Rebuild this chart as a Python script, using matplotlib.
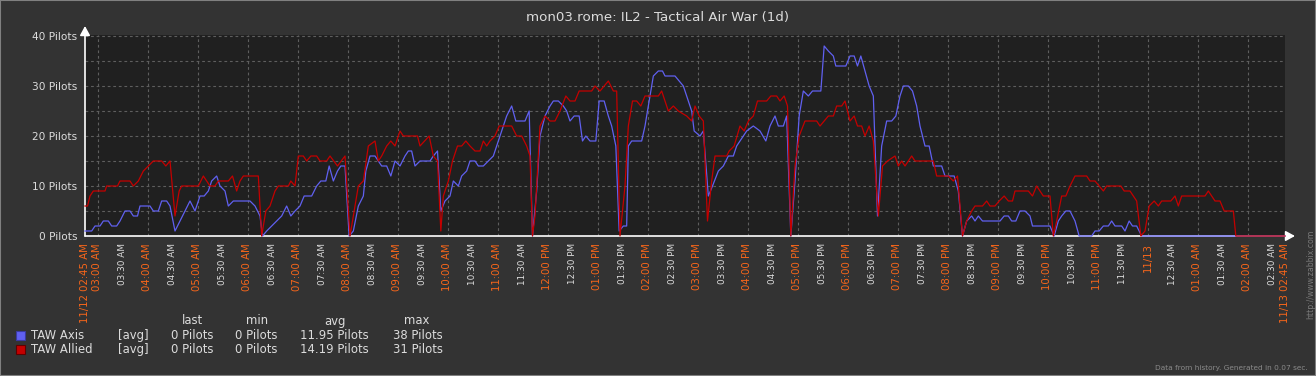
import matplotlib
matplotlib.use("Agg")
import matplotlib.pyplot as plt
import numpy as np
from matplotlib.patches import Rectangle

W, H = 1316, 376

# minutes after 11/12 02:45 AM -> pilots online
axis_min = [0, 8, 12, 18, 22, 28, 32, 38, 42, 48, 54, 58, 63, 66, 78, 82, 88, 92, 98, 102,
            108, 114, 120, 126, 132, 138, 143, 148, 152, 158, 162, 168, 172, 178, 198, 204,
            210, 213, 218, 224, 230, 236, 242, 247, 252, 258, 263, 272, 278, 283, 289, 293,
            298, 303, 307, 312, 317, 322, 328, 334, 337, 342, 348, 356, 362, 367, 372, 378,
            384, 388, 392, 396, 402, 414, 418, 423, 427, 432, 438, 442, 448, 452, 458, 462,
            468, 472, 478, 484, 490, 498, 506, 512, 517, 528, 533,
            537, 542, 546, 552, 558, 562, 568, 574, 578, 582, 587, 593, 597, 601, 606, 613,
            617, 623, 628, 632, 637, 641, 646, 650, 652, 656, 668, 672, 676, 682, 688, 693,
            696, 708, 718, 724, 728, 731, 738, 742, 748, 753, 760, 766, 772, 778, 782, 794,
            802, 810, 817, 822, 828, 832, 838, 842, 847, 852, 857, 862, 868, 873, 883, 887,
            892, 898, 901, 913, 918, 923, 927, 931, 936, 941, 946, 951, 956, 962, 968, 973,
            978, 982, 988, 993, 998, 1002, 1008, 1013, 1018, 1028, 1032, 1043, 1048, 1053,
            1058, 1064, 1068, 1072, 1077, 1098, 1103, 1108, 1112, 1117, 1122, 1128, 1134,
            1137, 1158, 1163, 1168, 1172, 1177, 1182, 1188, 1193, 1208, 1212, 1217, 1222,
            1228, 1232, 1236, 1244, 1248, 1253, 1257, 1262, 1268, 1440]
axis_val = [1, 1, 2, 2, 3, 3, 2, 2, 3, 5, 5, 4, 4, 6, 6, 5, 5, 7, 7, 6,
            1, 3, 5, 7, 5, 8, 8, 9, 11, 12, 10, 9, 6, 7, 7, 6,
            4, 0, 1, 2, 3, 4, 6, 4, 5, 6, 8, 8, 10, 11, 11, 14,
            11, 13, 14, 14, 0, 1, 6, 8, 13, 16, 16, 14, 14, 12, 15, 14,
            16, 17, 17, 14, 15, 15, 16, 17, 5, 7, 8, 11, 10, 12, 13, 15,
            15, 14, 14, 15, 16, 20, 24, 26, 23, 23, 25,
            0, 9, 20, 24, 26, 27, 27, 26, 25, 23, 24, 24, 19, 20, 19, 19,
            27, 27, 24, 22, 18, 1, 2, 2, 18, 19, 19, 22, 26, 32, 33, 33,
            32, 32, 30, 27, 25, 21, 20, 21, 8, 10, 13, 14, 16, 16, 18, 21,
            22, 21, 19, 22, 24, 22, 22, 24, 0, 11, 24, 29, 28, 29, 29, 38,
            37, 36, 34, 34, 36, 36, 34, 36, 33, 30, 28, 4, 18, 23, 23, 24,
            28, 30, 30, 29, 26, 22, 18, 18, 14, 14, 12, 12, 9, 0,
            3, 4, 3, 4, 3, 3, 4, 4, 3, 3, 5, 5, 4,
            2, 2, 0, 3, 4, 5, 5, 3, 0, 0, 1, 1, 2,
            2, 3, 2, 2, 1, 3, 2, 2, 0, 0]

allied_min = [0, 3, 6, 10, 24, 26, 39, 42, 54, 58, 64, 70, 76, 82, 92, 97, 102, 108, 113, 116,
              136, 142, 146, 150, 156, 160, 172, 177, 182, 186, 190, 208, 212, 217, 222, 228,
              232, 244, 247, 252, 256, 262, 266, 271, 278, 282, 290, 294, 303, 312, 318, 328,
              334, 340, 348, 352, 356, 362, 367, 372, 378, 382, 399, 402, 413, 418, 423, 427,
              430, 436, 441, 447, 452, 457, 462, 468, 474, 478, 482, 486, 492, 497, 512, 518,
              524, 530, 534,
              537, 540, 546, 552, 558, 564, 570, 577, 582, 588, 593, 608, 612, 618, 628, 634,
              638, 642, 648, 652, 657, 662, 667, 672, 688, 692, 700, 706, 712, 722, 728, 732,
              737, 742, 747, 752, 756, 770, 773, 779, 786, 791, 796, 802, 807, 818, 823, 830,
              834, 839, 843, 847, 852, 857, 864, 878, 882, 892, 898, 902, 908, 912, 918, 923,
              927, 932, 936, 941, 946, 952, 957, 963, 972, 976, 980, 984, 992, 996, 1018, 1022,
              1036, 1042, 1047, 1053, 1058, 1064, 1068,
              1077, 1082, 1086, 1092, 1097, 1103, 1108, 1113, 1116, 1132, 1137, 1142, 1150,
              1158, 1162, 1166, 1172, 1177, 1182, 1188, 1202, 1206, 1212, 1222, 1226, 1243,
              1247, 1254, 1262, 1267, 1272, 1277, 1283, 1288, 1292, 1303, 1308, 1312, 1316,
              1344, 1348, 1356, 1362, 1367, 1378, 1381, 1440]
allied_val = [6, 6, 8, 9, 9, 10, 10, 11, 11, 10, 11, 13, 14, 15, 15, 14, 15, 4, 9, 10,
              10, 12, 11, 10, 10, 11, 11, 12, 9, 11, 12, 12, 0, 5, 6, 9,
              10, 10, 11, 10, 16, 16, 15, 16, 16, 15, 15, 16, 14, 16, 0, 10,
              11, 18, 19, 15, 16, 18, 19, 18, 21, 20, 20, 18, 20, 16, 15, 1,
              8, 11, 15, 18, 18, 19, 18, 17, 17, 19, 18, 19, 20, 22, 22, 20,
              20, 18, 16,
              0, 4, 22, 24, 23, 23, 25, 28, 27, 27, 29, 29, 30, 29, 31, 29,
              29, 0, 10, 22, 27, 27, 26, 28, 28, 29, 25, 26, 25, 24, 23, 26,
              24, 23, 3, 11, 16, 16, 17, 18, 22, 21, 23, 24, 27, 27, 28, 28,
              27, 28, 26, 0, 14, 20, 23, 23, 22, 24, 24, 26, 26, 27, 23, 24,
              22, 22, 20, 22, 19, 4, 14, 15, 16, 14, 15, 14, 16, 15, 15, 12,
              12, 11, 12, 0, 3, 5, 6,
              6, 7, 6, 6, 7, 8, 7, 7, 9, 9, 8, 10, 8,
              8, 0, 3, 8, 8, 10, 12, 12, 11, 11, 9, 10, 10,
              9, 9, 7, 0, 1, 6, 7, 6, 7, 7, 8, 6, 8,
              8, 9, 7, 7, 5, 5, 0, 0]

x_labels = ["11/12 02:45 AM",
            "03:00 AM", "03:30 AM", "04:00 AM", "04:30 AM", "05:00 AM", "05:30 AM",
            "06:00 AM", "06:30 AM", "07:00 AM", "07:30 AM", "08:00 AM", "08:30 AM",
            "09:00 AM", "09:30 AM", "10:00 AM", "10:30 AM", "11:00 AM", "11:30 AM",
            "12:00 PM", "12:30 PM", "01:00 PM", "01:30 PM", "02:00 PM", "02:30 PM",
            "03:00 PM", "03:30 PM", "04:00 PM", "04:30 PM", "05:00 PM", "05:30 PM",
            "06:00 PM", "06:30 PM", "07:00 PM", "07:30 PM", "08:00 PM", "08:30 PM",
            "09:00 PM", "09:30 PM", "10:00 PM", "10:30 PM", "11:00 PM", "11:30 PM",
            "11/13", "12:30 AM", "01:00 AM", "01:30 AM", "02:00 AM", "02:30 AM",
            "11/13 02:45 AM"]
y_ticks = [0, 10, 20, 30, 40]
y_labels = ["0 Pilots", "10 Pilots", "20 Pilots", "30 Pilots", "40 Pilots"]

legend_names = ["TAW Axis", "TAW Allied"]
legend_last = ["0 Pilots", "0 Pilots"]
legend_min = ["0 Pilots", "0 Pilots"]
legend_avg = ["11.95 Pilots", "14.19 Pilots"]
legend_max = ["38 Pilots", "31 Pilots"]

BG = "#333333"
PLOT_BG = "#202020"
TXT = "#dcdcdc"
ORANGE = "#f8661a"
BLUE = "#6060f0"
RED = "#c40000"
GRID = "#5e5e5e"


def fx(x):
    return x / W


def fy(y):
    return 1 - y / H


fig = plt.figure(figsize=(W / 100, H / 100), dpi=100, facecolor=BG)
ax = fig.add_axes([fx(85), fy(236), 1200 / W, 201 / H])
ax.set_facecolor(PLOT_BG)
for s in ax.spines.values():
    s.set_visible(False)

ax.set_xlim(0, 24)
ax.set_ylim(0, 40.2)

# dashed grid: every full hour / every 5 pilots
for i in range(24):
    ax.axvline(0.25 + i, color=GRID, lw=0.8, ls=(0, (2.5, 2.5)), zorder=1)
for v in range(5, 45, 5):
    ax.axhline(v, color=GRID, lw=0.8, ls=(0, (2.5, 2.5)), zorder=1)

# axis lines with arrows
arrow = dict(arrowstyle="-|>,head_length=0.55,head_width=0.3", color="white",
             lw=1.2, shrinkA=0, shrinkB=0, mutation_scale=10)
ax.annotate("", xy=(0, 42.0), xytext=(0, 0), arrowprops=arrow, annotation_clip=False, zorder=3)
ax.annotate("", xy=(24.2, 0), xytext=(0, 0), arrowprops=arrow, annotation_clip=False, zorder=3)

ax.plot(np.array(axis_min) / 60, axis_val, color=BLUE, lw=0.9, zorder=5, clip_on=False)
ax.plot(np.array(allied_min) / 60, allied_val, color=RED, lw=0.9, zorder=6, clip_on=False)

# tick labels every 30 min
xpos = [0] + [0.25 + 0.5 * i for i in range(48)] + [24]
ax.set_xticks(xpos)
ax.set_xticklabels(x_labels, rotation=90, va="top", ha="center")
for lab in ax.get_xticklabels():
    txt = lab.get_text()
    if txt.endswith(":30 AM") or txt.endswith(":30 PM"):
        lab.set_color(TXT)
        lab.set_fontsize(6.4)
    else:
        lab.set_color(ORANGE)
        lab.set_fontsize(7.3)

ax.set_yticks(y_ticks)
ax.set_yticklabels(y_labels, color=TXT, fontsize=7.6)
ax.tick_params(axis="both", which="both", length=0)
ax.tick_params(axis="x", pad=5)
ax.tick_params(axis="y", pad=5.5)

fig.text(0.5, fy(18), "mon03.rome: IL2 - Tactical Air War (1d)", ha="center", va="center",
         color=TXT, fontsize=9.6)

# legend
for x, h in [(192, "last"), (257, "min"), (335, "avg"), (417, "max")]:
    fig.text(fx(x), fy(321), h, ha="center", va="center", color=TXT, fontsize=8.4)
colors = [BLUE, RED]
edges = ["#3a3aa0", "#600000"]
for i, ypix in enumerate([335.5, 349.5]):
    fig.patches.append(Rectangle((fx(16), fy(ypix + 4.5)), 9 / W, 9 / H,
                                 transform=fig.transFigure, facecolor=colors[i],
                                 edgecolor=edges[i], lw=0.8))
    fig.text(fx(31), fy(ypix), legend_names[i], ha="left", va="center", color=TXT, fontsize=8.4)
    fig.text(fx(118), fy(ypix), "[avg]", ha="left", va="center", color=TXT, fontsize=8.4)
    fig.text(fx(171), fy(ypix), legend_last[i], ha="left", va="center", color=TXT, fontsize=8.4)
    fig.text(fx(235), fy(ypix), legend_min[i], ha="left", va="center", color=TXT, fontsize=8.4)
    fig.text(fx(300), fy(ypix), legend_avg[i], ha="left", va="center", color=TXT, fontsize=8.4)
    fig.text(fx(393), fy(ypix), legend_max[i], ha="left", va="center", color=TXT, fontsize=8.4)

fig.text(fx(1308), fy(368), "Data from history. Generated in 0.07 sec.", ha="right",
         va="center", color="#8a8a8a", fontsize=5.3)
fig.text(fx(1311), fy(230), "http://www.zabbix.com", ha="center", va="top", rotation=90,
         color="#7a7a7a", fontsize=5.6)

fig.patches.append(Rectangle((0, 0), 1, 1, transform=fig.transFigure, fill=False,
                             edgecolor="#808080", lw=1.5))

fig.savefig("out.png", dpi=100, facecolor=BG)
